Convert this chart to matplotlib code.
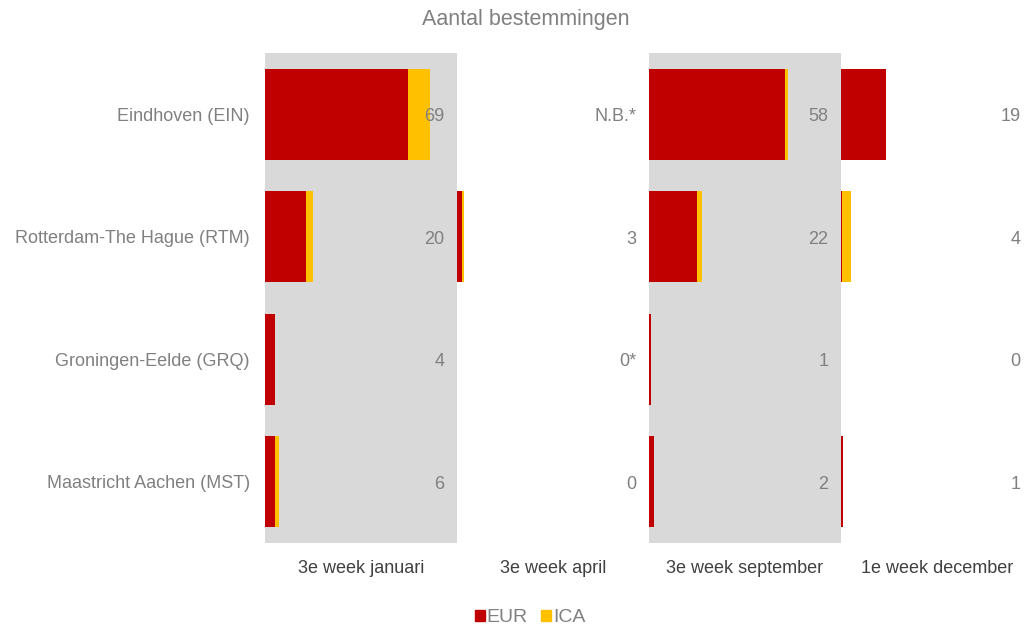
import numpy as np
import matplotlib.pyplot as plt

plt.rcParams['font.family'] = ['Liberation Sans', 'DejaVu Sans']

airports = ['Eindhoven (EIN)', 'Rotterdam-The Hague (RTM)',
            'Groningen-Eelde (GRQ)', 'Maastricht Aachen (MST)']
periods = ['3e week januari', '3e week april', '3e week september', '1e week december']

# EUR / ICA destinations per period (rows follow airports)
eur = [[60, 17, 4, 4],
       [0, 2, 0, 0],
       [57, 20, 1, 2],
       [19, 0.4, 0, 1]]
ica = [[9, 3, 0, 2],
       [0, 1, 0, 0],
       [1, 2, 0, 0],
       [0, 3.6, 0, 0]]
totals = [['69', '20', '4', '6'],
          ['N.B.*', '3', '0*', '0'],
          ['58', '22', '1', '2'],
          ['19', '4', '0', '1']]

RED = '#C00000'
YEL = '#FFC000'
GREY = '#D9D9D9'
TXT = '#808080'

W, H = 1025, 628
fig = plt.figure(figsize=(W / 100, H / 100), dpi=100)

x0, pw = 265, 192
top, bot = 53, 543
xmax = 80.3
y = np.arange(len(airports))

for i, per in enumerate(periods):
    ax = fig.add_axes([(x0 + i * pw) / W, 1 - bot / H, pw / W, (bot - top) / H])
    ax.set_facecolor(GREY if i % 2 == 0 else 'white')
    ax.barh(y, eur[i], height=0.74, color=RED)
    ax.barh(y, ica[i], left=eur[i], height=0.74, color=YEL)
    for j in y:
        ax.text(75, j + 0.02, totals[i][j], ha='right', va='center', fontsize=13, color=TXT)
    ax.set_xlim(0, xmax)
    ax.set_ylim(len(airports) - 0.5, -0.5)
    ax.set_xticks([])
    ax.set_xlabel(per, fontsize=13, color='#404040', labelpad=12)
    for s in ax.spines.values():
        s.set_visible(False)
    if i == 0:
        ax.set_yticks(y)
        ax.set_yticklabels(airports, fontsize=13, color=TXT)
        ax.tick_params(axis='y', length=0, pad=11)
    else:
        ax.set_yticks([])

fig.text(526 / W, 1 - 20 / H, 'Aantal bestemmingen', ha='center', va='center',
         fontsize=15.5, color=TXT)

handles = [plt.Rectangle((0, 0), 1, 1, color=RED), plt.Rectangle((0, 0), 1, 1, color=YEL)]
fig.legend(handles, ['EUR', 'ICA'], loc='center', bbox_to_anchor=(530 / W, 1 - 618 / H),
           ncol=2, frameon=False, fontsize=14, labelcolor=TXT,
           handlelength=0.5, handleheight=0.5, handletextpad=0.1, columnspacing=0.7)

fig.savefig('out.png', dpi=100)
